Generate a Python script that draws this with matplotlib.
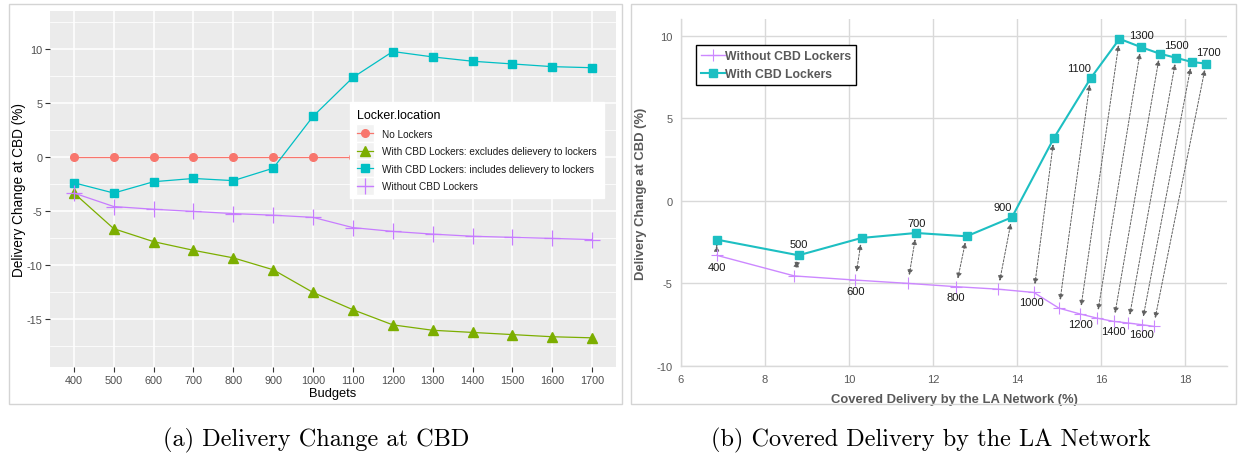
import matplotlib
matplotlib.use("Agg")
import matplotlib.pyplot as plt
import numpy as np
from matplotlib.patches import Rectangle
from matplotlib.legend_handler import HandlerLine2D
from matplotlib.lines import Line2D

plt.rcParams['font.family'] = ['Liberation Sans', 'DejaVu Sans']
plt.rcParams['axes.unicode_minus'] = False

# ---------------- data ----------------
budgets = [400, 500, 600, 700, 800, 900, 1000, 1100, 1200, 1300, 1400, 1500, 1600, 1700]
no_lockers = [0, 0, 0, 0, 0, 0, 0, 0, 0, 0, 0, 0, 0, 0]
cbd_excludes = [-3.3, -6.6, -7.8, -8.6, -9.3, -10.4, -12.5, -14.1, -15.5, -16.0, -16.2, -16.4, -16.6, -16.7]
cbd_includes = [-2.35, -3.3, -2.25, -1.95, -2.15, -1.0, 3.8, 7.4, 9.8, 9.3, 8.9, 8.65, 8.4, 8.3]
without_cbd = [-3.3, -4.55, -4.8, -5.0, -5.2, -5.35, -5.55, -6.5, -6.85, -7.1, -7.3, -7.4, -7.5, -7.6]

covered_without = [6.85, 8.7, 10.15, 11.4, 12.55, 13.55, 14.4, 15.0, 15.5, 15.9, 16.3, 16.65, 16.97, 17.25]
covered_with = [6.85, 8.8, 10.3, 11.6, 12.8, 13.88, 14.88, 15.75, 16.44, 16.95, 17.4, 17.79, 18.16, 18.5]

legend_title = "Locker.location"
series_labels = ["No Lockers",
                 "With CBD Lockers: excludes delievery to lockers",
                 "With CBD Lockers: includes delievery to lockers",
                 "Without CBD Lockers"]
right_labels = ["Without CBD Lockers", "With CBD Lockers"]

W, H = 1239, 460
fig = plt.figure(figsize=(W / 100, H / 100), dpi=100)


def fx(px):
    return px / W


def fy(py):
    return 1 - py / H


# outer frames
for x0, x1 in [(9, 622), (631, 1236)]:
    fig.patches.append(Rectangle((fx(x0), fy(405)), fx(x1) - fx(x0), fy(5) - fy(405),
                                 transform=fig.transFigure, fill=False,
                                 edgecolor='#d4d4d4', lw=1.0, zorder=0))

# ---------------- left panel (ggplot style) ----------------
ax1 = fig.add_axes([fx(50), fy(368), fx(616) - fx(50), fy(12) - fy(368)])
ax1.set_facecolor('#EBEBEB')
for s in ax1.spines.values():
    s.set_visible(False)
xi = np.arange(len(budgets))
ax1.set_xlim(-0.6, len(budgets) - 1 + 0.6)
ax1.set_ylim(-19.4, 13.55)
ax1.set_xticks(xi)
ax1.set_xticklabels([str(b) for b in budgets])
ax1.set_yticks([-15, -10, -5, 0, 5, 10])
ax1.set_yticks([-17.5, -12.5, -7.5, -2.5, 2.5, 7.5, 12.5], minor=True)
ax1.grid(True, which='major', color='white', lw=1.1)
ax1.grid(True, which='minor', axis='y', color='white', lw=0.55)
ax1.set_axisbelow(True)
ax1.tick_params(axis='both', which='major', length=3.5, width=0.8, color='#333333',
                labelcolor='#4D4D4D', labelsize=7.8, pad=2)
ax1.tick_params(axis='y', which='minor', length=0)
ax1.set_xlabel("Budgets", fontsize=9.3, color='black', labelpad=2)
ax1.set_ylabel("Delivery Change at CBD (%)", fontsize=9.8, color='black', labelpad=0)

c_red, c_green, c_cyan, c_purple = '#F8766D', '#7CAE00', '#00BFC4', '#C77CFF'
h1, = ax1.plot(xi, no_lockers, color=c_red, lw=0.9, marker='o', ms=5.5, mec=c_red, label=series_labels[0])
h2, = ax1.plot(xi, cbd_excludes, color=c_green, lw=0.9, marker='^', ms=6.5, mec=c_green, label=series_labels[1])
h3, = ax1.plot(xi, cbd_includes, color=c_cyan, lw=0.9, marker='s', ms=6, mec=c_cyan, label=series_labels[2])
h4, = ax1.plot(xi, without_cbd, color=c_purple, lw=0.9, marker='+', ms=11, mew=0.9, label=series_labels[3])


class KeyBgHandler(HandlerLine2D):
    def create_artists(self, legend, orig_handle, xdescent, ydescent, width, height, fontsize, trans):
        size = height + 8
        bg = Rectangle((width / 2 - size / 2 - xdescent, height / 2 - size / 2 - ydescent), size, size,
                       facecolor='#F2F2F2', edgecolor='white', lw=1, transform=trans)
        arts = super().create_artists(legend, orig_handle, xdescent, ydescent, width, height, fontsize, trans)
        return [bg] + arts


leg1 = ax1.legend(handles=[h1, h2, h3, h4], title=legend_title, loc='upper left',
                  bbox_to_anchor=(0.53, 0.744), fontsize=7.2, title_fontsize=9,
                  frameon=True, fancybox=False, framealpha=1, edgecolor='white',
                  handlelength=1.6, handletextpad=0.9, labelspacing=0.75,
                  borderpad=0.7, borderaxespad=0,
                  handler_map={Line2D: KeyBgHandler(numpoints=1)})
leg1._legend_box.align = 'left'
for t in leg1.get_texts():
    t.set_color('#1a1a1a')

# ---------------- right panel (Excel style) ----------------
ax2 = fig.add_axes([fx(681), fy(367), fx(1227) - fx(681), fy(20) - fy(367)])
ax2.set_xlim(6, 19)
ax2.set_ylim(-10, 11)
ax2.set_xticks([6, 8, 10, 12, 14, 16, 18])
ax2.set_yticks([-10, -5, 0, 5, 10])
ax2.grid(True, color='#D9D9D9', lw=1.0)
ax2.set_axisbelow(True)
for k in ['top', 'right']:
    ax2.spines[k].set_visible(False)
for k in ['left', 'bottom']:
    ax2.spines[k].set_color('#D9D9D9')
    ax2.spines[k].set_linewidth(1.0)
ax2.tick_params(axis='both', length=0, labelsize=8, labelcolor='#595959', pad=6)
ax2.set_xlabel("Covered Delivery by the LA Network (%)", fontsize=9.4, fontweight='bold',
               color='#595959', labelpad=6)
ax2.set_ylabel("Delivery Change at CBD (%)", fontsize=9.4, fontweight='bold',
               color='#595959', labelpad=7)

cc = '#1DBFC2'
cp = '#CC88FF'
g1, = ax2.plot(covered_without, without_cbd, color=cp, lw=1.0, marker='+', ms=9, mew=0.8,
               label=right_labels[0], zorder=3)
g2, = ax2.plot(covered_with, cbd_includes, color=cc, lw=1.5, marker='s', ms=6, mec=cc,
               label=right_labels[1], zorder=3)

# dashed double-headed arrows linking each budget pair
for i in range(len(budgets)):
    ax2.annotate("", xy=(covered_with[i], cbd_includes[i]),
                 xytext=(covered_without[i], without_cbd[i]),
                 arrowprops=dict(arrowstyle='<|-|>', color='#606060', lw=0.7,
                                 linestyle=(0, (2.2, 1.6)), shrinkA=6, shrinkB=4.5,
                                 mutation_scale=8), zorder=2)

# budget labels: (dx, dy) offsets in points; below the purple point or above the cyan point
label_offsets = [(0, -8.6), (0, 8.1), (0, -8.1), (0, 7.4), (0, -7.5), (-6.6, 7.7), (-1.5, -6.8),
                 (-8.5, 7.7), (0, -6.9), (0.5, 8.6), (0, -7.0), (0.5, 9.4), (0, -7.0), (1.8, 8.7)]
for i, b in enumerate(budgets):
    dx, dy = label_offsets[i]
    if dy < 0:
        px, py = covered_without[i], without_cbd[i]
    else:
        px, py = covered_with[i], cbd_includes[i]
    ax2.annotate(str(b), xy=(px, py), xytext=(dx, dy), textcoords='offset points',
                 ha='center', va='center', fontsize=8, color='#1a1a1a', zorder=4)

leg2 = ax2.legend(handles=[g1, g2], loc='upper left', bbox_to_anchor=(0.027, 0.925),
                  fontsize=8.8, frameon=True, fancybox=False, framealpha=1,
                  edgecolor='black', handlelength=2.0, handletextpad=0.0,
                  labelspacing=0.5, borderpad=0.4, borderaxespad=0, numpoints=1)
leg2.get_frame().set_linewidth(1.0)
for t in leg2.get_texts():
    t.set_color('#595959')
    t.set_fontweight('bold')

# ---------------- captions ----------------
cap_font = dict(family='cmr10', fontsize=17.5, color='black', ha='center', va='center')
fig.text(fx(316), fy(440), "(a) Delivery Change at CBD", **cap_font)
fig.text(fx(931), fy(440), "(b) Covered Delivery by the LA Network", **cap_font)

fig.savefig("out.png", dpi=100)
